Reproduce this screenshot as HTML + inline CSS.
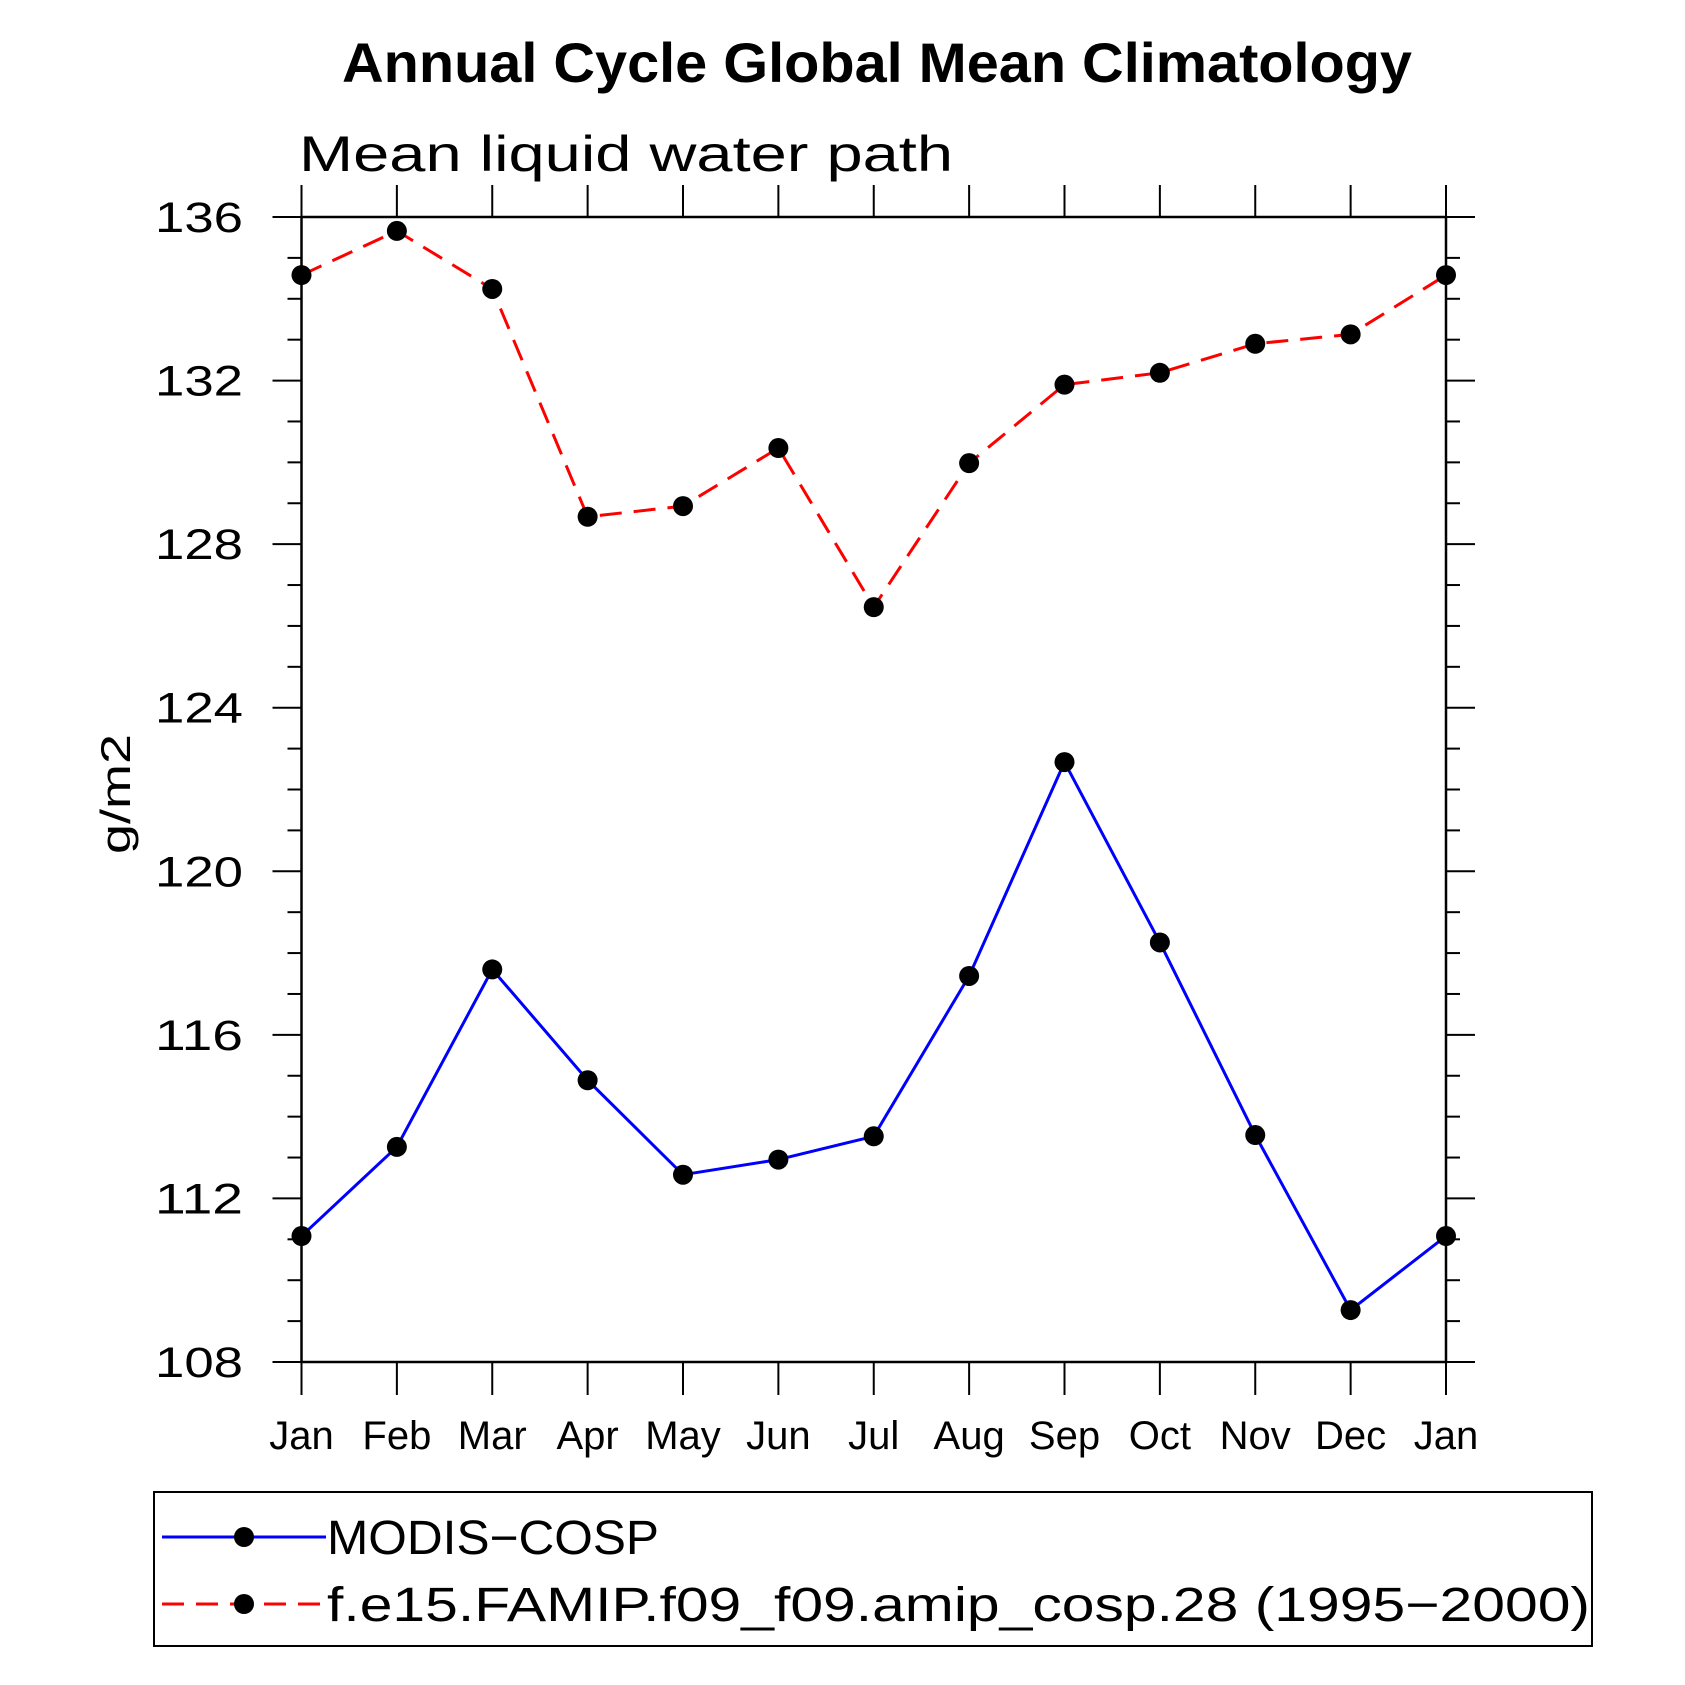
<!DOCTYPE html>
<html><head><meta charset="utf-8"><style>
html,body{margin:0;padding:0;background:#fff;}
svg{display:block;}
text{font-family:"Liberation Sans",sans-serif;}
</style></head><body>
<svg id="chart" width="1685" height="1685" viewBox="0 0 1685 1685">
<text x="877" y="82" text-anchor="middle" font-size="56" font-weight="bold" textLength="1070" lengthAdjust="spacingAndGlyphs">Annual Cycle Global Mean Climatology</text>
<text x="299" y="171" font-size="50" textLength="654" lengthAdjust="spacingAndGlyphs" font-weight="300">Mean liquid water path</text>
<text transform="translate(130,794) rotate(-90)" text-anchor="middle" font-size="42" textLength="120" lengthAdjust="spacingAndGlyphs">g/m2</text>
<g id="axes"></g>
<g id="series"></g>
<rect x="154" y="1492" width="1438" height="154" fill="none" stroke="#000" stroke-width="2"/>
<g>
<line x1="162" y1="1537" x2="326" y2="1537" stroke="#0000ff" stroke-width="3"/>
<circle cx="244" cy="1537" r="10" fill="#000"/>
<text x="327" y="1554" font-size="48" textLength="332" lengthAdjust="spacingAndGlyphs">MODIS−COSP</text>
</g>
<g>
<line x1="162" y1="1604" x2="326" y2="1604" stroke="#ff0000" stroke-width="3" stroke-dasharray="22,12"/>
<circle cx="244" cy="1604" r="10" fill="#000"/>
<text x="327" y="1621" font-size="48" textLength="1263" lengthAdjust="spacingAndGlyphs">f.e15.FAMIP.f09_f09.amip_cosp.28 (1995−2000)</text>
</g>
</svg>
<script>
const months = ["Jan","Feb","Mar","Apr","May","Jun","Jul","Aug","Sep","Oct","Nov","Dec","Jan"];
const modisValues = [111.08,113.26,117.6,114.89,112.58,112.95,113.52,117.44,122.67,118.26,113.55,109.27,111.08];
const modelValues = [134.58,135.66,134.24,128.67,128.93,130.35,126.46,129.98,131.9,132.19,132.9,133.13,134.58];
const yTicks = [108,112,116,120,124,128,132,136];

const NS="http://www.w3.org/2000/svg";
const L=301.5,R=1446,T=217,B=1362,yMin=108,yMax=136;
const xs=i=>L+(R-L)*i/(months.length-1);
const ys=v=>B-(B-T)*(v-yMin)/(yMax-yMin);
function mk(tag,attrs,parent){const e=document.createElementNS(NS,tag);for(const k in attrs)e.setAttribute(k,attrs[k]);parent.appendChild(e);return e;}
const axes=document.getElementById('axes'),series=document.getElementById('series');
const frame=mk('rect',{x:L,y:T,width:R-L,height:B-T,fill:'none',stroke:'#000','stroke-width':2.5},axes);


for(let v=yMin;v<=yMax;v++){
  const major=yTicks.includes(v),len=major?29:14,y=ys(v);
  mk('line',{x1:L-len,y1:y,x2:L,y2:y,stroke:'#000','stroke-width':2},axes);
  mk('line',{x1:R,y1:y,x2:R+len,y2:y,stroke:'#000','stroke-width':2},axes);
}
yTicks.forEach(v=>{
  const t=mk('text',{x:243,y:ys(v)+15,'text-anchor':'end','font-size':43,textLength:88,lengthAdjust:'spacingAndGlyphs'},axes);
  t.textContent=v;
  
  
});
months.forEach((m,i)=>{
  const x=xs(i);
  mk('line',{x1:x,y1:B,x2:x,y2:B+33,stroke:'#000','stroke-width':2},axes);
  mk('line',{x1:x,y1:T-32,x2:x,y2:T,stroke:'#000','stroke-width':2},axes);
  const t=mk('text',{x:x,y:1449,'text-anchor':'middle','font-size':40},axes);
  t.textContent=m;
  
  
});
function drawSeries(vals,color,dash,name){
  const pl=mk('polyline',{points:vals.map((v,i)=>xs(i)+','+ys(v)).join(' '),fill:'none',stroke:color,'stroke-width':3,'stroke-dasharray':dash},series);
  
  
  vals.forEach((v,i)=>{
    const c=mk('circle',{cx:xs(i),cy:ys(v),r:10,fill:'#000'},series);
    
    
  });
}
drawSeries(modelValues,'#ff0000','22,12','model');
drawSeries(modisValues,'#0000ff','none','modis');
</script>
</body></html>
